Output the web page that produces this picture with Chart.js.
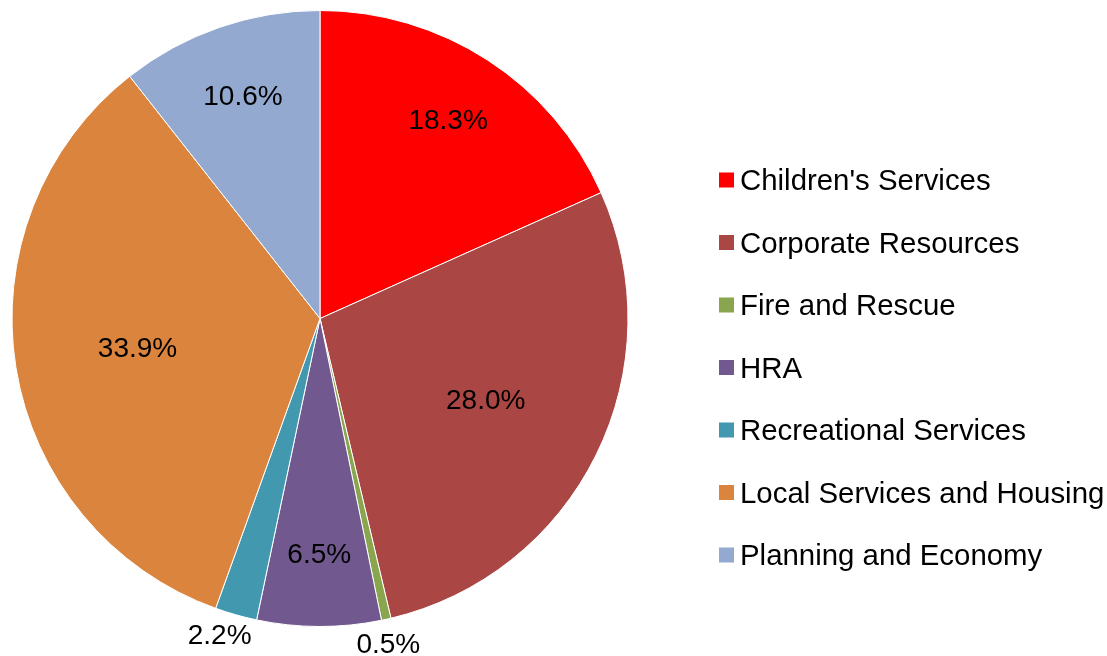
<!DOCTYPE html>
<html>
<head>
<meta charset="utf-8">
<script src="https://cdn.jsdelivr.net/npm/chart.js@4.4.1/dist/chart.umd.min.js"></script>
<style>
  html, body { margin: 0; padding: 0; background: #fff; }
  canvas { display: block; }
</style>
</head>
<body>
<canvas id="budget-pie" width="1107" height="656"></canvas>
<script>
"use strict";

/* --- DATA --- */

const services = [
  "Children's Services",
  'Corporate Resources',
  'Fire and Rescue',
  'HRA',
  'Recreational Services',
  'Local Services and Housing',
  'Planning and Economy'
];

const shares = [18.3, 28.0, 0.5, 6.5, 2.2, 33.9, 10.6];

const slice_colours = [
  '#FF0000',
  '#AA4643',
  '#89A54E',
  '#71588F',
  '#4198AF',
  '#DB843D',
  '#93A9CF'
];

const FONT = "'Liberation Sans', Arial, sans-serif";

/* --- PERCENT LABELS ON / NEXT TO SLICES --- */

const slice_labels = {
  id: 'sliceLabels',
  afterDatasetsDraw(chart) {
    const ctx = chart.ctx;
    const meta = chart.getDatasetMeta(0);
    ctx.save();
    ctx.font = '28px ' + FONT;
    ctx.fillStyle = '#000';
    ctx.textAlign = 'center';
    ctx.textBaseline = 'middle';
    meta.data.forEach((arc, i) => {
      const p = arc.getProps(['x', 'y', 'startAngle', 'endAngle', 'outerRadius'], true);
      let mid = (p.startAngle + p.endAngle) / 2;
      const v = shares[i];
      // small slices go outside, big ones closer to the centre
      let f = 0.765;
      if (v < 3) {
        f = 1.08;
        mid += v > 1 ? 0.03 : 0.01;
      } else if (v > 25) {
        f = 0.6;
      }
      const r = p.outerRadius * f;
      ctx.fillText(v.toFixed(1) + '%', p.x + Math.cos(mid) * r, p.y + Math.sin(mid) * r + 1);
    });
    ctx.restore();
  }
};

/* --- LEGEND (right side) --- */

const side_legend = {
  id: 'sideLegend',
  afterDraw(chart) {
    const ctx = chart.ctx;
    const left = 719;
    const first = 180;
    const step = 62.5;
    const box = 15;
    ctx.save();
    ctx.font = '29.4px ' + FONT;
    ctx.textAlign = 'left';
    ctx.textBaseline = 'middle';
    services.forEach((name, i) => {
      const y = first + i * step;
      ctx.fillStyle = slice_colours[i];
      ctx.fillRect(left, y - box / 2, box, box);
      ctx.fillStyle = '#000';
      ctx.fillText(name, left + box + 6, y + 2);
    });
    ctx.restore();
  }
};

/* --- CHART --- */

const budget_pie = document.getElementById('budget-pie');

let budget_chart = new Chart(budget_pie, {
  type: 'pie',
  data: {
    labels: services,
    datasets: [{
      label: 'Share',
      data: shares,
      backgroundColor: slice_colours,
      borderColor: '#FFFFFF',
      borderWidth: 1
    }]
  },
  options: {
    responsive: false,
    animation: false,
    layout: {
      padding: { left: 0, right: 467, top: 10, bottom: 29 }
    },
    plugins: {
      legend: {
        display: false
      },
      tooltip: {
        enabled: false
      },
      title: {
        display: false
      }
    }
  },
  plugins: [slice_labels, side_legend]
});
</script>
</body>
</html>
